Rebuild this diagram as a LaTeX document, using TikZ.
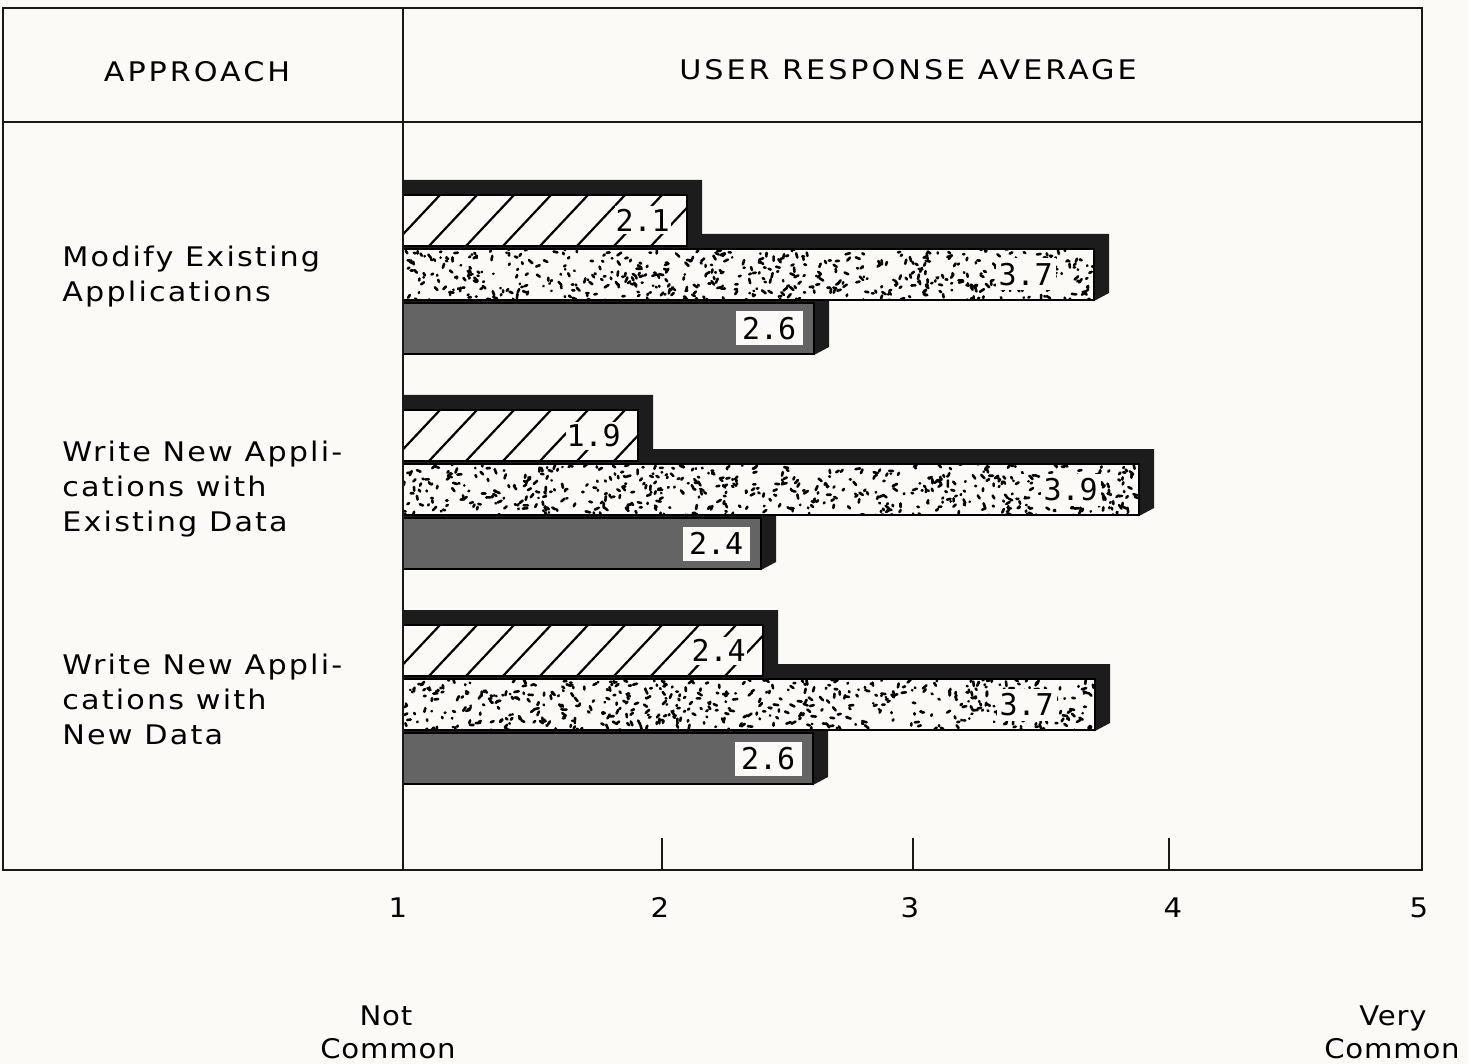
\documentclass[tikz,border=0pt]{standalone}
\usepackage{fontspec}
\setmainfont{DejaVu Sans}
\newfontfamily\lblfont[LetterSpace=8,FakeStretch=1.12]{DejaVu Sans}
\newfontfamily\axfont[LetterSpace=3,FakeStretch=1.08]{DejaVu Sans}
\newfontfamily\hdrfont[LetterSpace=11,FakeStretch=1.12]{DejaVu Sans}
\newfontfamily\numfont{DejaVu Sans Mono}
\definecolor{bgc}{RGB}{252,250,247}
\definecolor{shd}{RGB}{28,28,28}
\definecolor{darkc}{RGB}{100,100,100}
\tikzset{
  frame/.style={line width=1.2pt, draw=black!90},
  lbl/.style={font=\lblfont\fontsize{13.5}{16}\selectfont, inner sep=0pt, anchor=base west},
  hdr/.style={font=\hdrfont\fontsize{13.5}{16}\selectfont, inner sep=0pt, anchor=base},
  axl/.style={font=\axfont\fontsize{13.5}{16}\selectfont, inner sep=0pt, anchor=base},
  numlbl/.style={font=\numfont\fontsize{15}{16}\selectfont, inner sep=0pt, fill=bgc, anchor=east},
  baredge/.style={draw=black, line width=0.6pt},
}
% #1 top, #2 right
\newcommand\shadowpoly[2]{%
  \fill[shd] (403,#1-15) -- (#2+15,#1-15) -- (#2+15,#1+44) -- (#2,#1+52) -- (403,#1+51) -- cycle;}
% #1 name, #2 top, #3 right, #4 label
\newcommand\hatchbar[4]{%
  \shadowpoly{#2}{#3}
  \fill[bgc] (403,#2) rectangle (#3,#2+51);
  \begin{scope}
    \clip (403,#2) rectangle (#3,#2+51);
    \foreach \k in {0,...,12} {\draw[line width=1.1pt] (392+\k*37,#2+51) -- ++(48,-51);}
  \end{scope}
  \draw[baredge] (403,#2) rectangle (#3,#2+51);
  \node[numlbl, minimum width=28pt, minimum height=14pt] (#1) at (#3-16,#2+25.5) {#4};
}
\newcommand\dotbar[4]{%
  \shadowpoly{#2}{#3}
  \fill[bgc] (403,#2) rectangle (#3,#2+51);
  \begin{scope}
    \clip (403,#2) rectangle (#3,#2+51);
    \pgfmathtruncatemacro\ndots{(#3-403)*0.8}
    \foreach \k in {1,...,\ndots} {
      \pgfmathsetmacro\xx{403+rnd*(#3-403)}
      \pgfmathsetmacro\yy{#2+rnd*51}
      \pgfmathsetmacro\aa{rnd*180}
      \pgfmathsetmacro\ll{0.3+rnd*4.5}
      \draw[line width=1.3pt, line cap=round] (\xx,\yy) -- ++(\aa:\ll);
    }
  \end{scope}
  \draw[baredge] (403,#2) rectangle (#3,#2+51);
  \node[numlbl, minimum width=30pt, minimum height=16pt] (#1) at (#3-38,#2+25.5) {#4};
}
\newcommand\darkbar[4]{%
  \shadowpoly{#2}{#3}
  \fill[darkc] (403,#2) rectangle (#3,#2+51);
  \draw[baredge] (403,#2) rectangle (#3,#2+51);
  \node[numlbl, minimum width=33.5pt, minimum height=17pt] (#1) at (#3-11,#2+25.5) {#4};
}
\begin{document}
\begin{tikzpicture}[x=0.5pt, y=-0.5pt]
  \pgfmathsetseed{4711}
  \fill[bgc] (0,0) rectangle (1468,1064);
  \useasboundingbox (0,0) rectangle (1468,1064);

  % group 1
  \darkbar{d1}{303}{814}{2.6}
  \dotbar{s1}{249}{1094}{3.7}
  \hatchbar{h1}{195}{687}{2.1}
  % group 2
  \darkbar{d2}{518}{761}{2.4}
  \dotbar{s2}{464}{1139}{3.9}
  \hatchbar{h2}{410}{638}{1.9}
  % group 3
  \darkbar{d3}{733}{813}{2.6}
  \dotbar{s3}{679}{1095}{3.7}
  \hatchbar{h3}{625}{763}{2.4}

  % frame
  \draw[frame] (3,8) rectangle (1422,870);
  \draw[frame] (3,122) -- (1422,122);
  \draw[frame] (403,8) -- (403,870);
  \draw[frame] (662,838) -- (662,870);
  \draw[frame] (913,838) -- (913,870);
  \draw[frame] (1169,838) -- (1169,870);

  % headers
  \node[hdr] (approach) at (197,82) {APPROACH};
  \node[hdr] (ura) at (908,80) {USER RESPONSE AVERAGE};

  % group labels
  \node[lbl] (g1a) at (62,267) {Modify Existing};
  \node[lbl] (g1b) at (62,302) {Applications};
  \node[lbl] (g2a) at (62,461) {Write New Appli-};
  \node[lbl] (g2b) at (62,496) {cations with};
  \node[lbl] (g2c) at (62,531) {Existing Data};
  \node[lbl] (g3a) at (62,674) {Write New Appli-};
  \node[lbl] (g3b) at (62,709) {cations with};
  \node[lbl] (g3c) at (62,744) {New Data};

  % axis numbers
  \node[axl] (n1) at (398,917) {1};
  \node[axl] (n2) at (660,917) {2};
  \node[axl] (n3) at (910,917) {3};
  \node[axl] (n4) at (1173,917) {4};
  \node[axl] (n5) at (1419,917) {5};

  \node[axl] (nc1) at (386,1025) {Not};
  \node[axl] (nc2) at (388,1058) {Common};
  \node[axl] (vc1) at (1393,1025) {Very};
  \node[axl] (vc2) at (1392,1058) {Common};
\end{tikzpicture}
\end{document}
